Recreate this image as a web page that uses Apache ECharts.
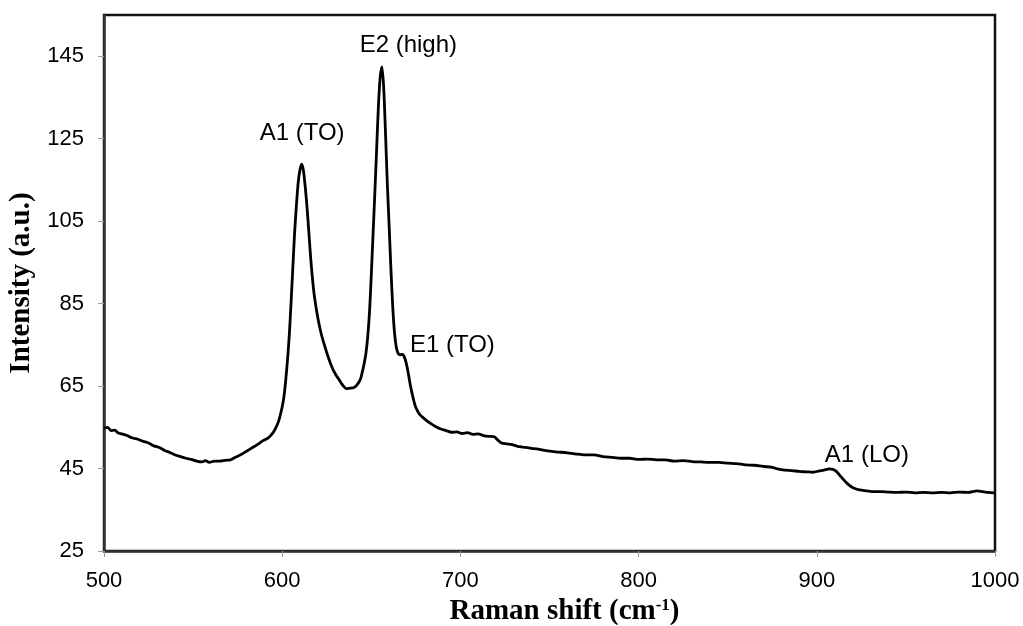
<!DOCTYPE html>
<html>
<head>
<meta charset="utf-8">
<script src="https://cdn.jsdelivr.net/npm/echarts@6/dist/echarts.min.js"></script>
<style>
html,body{margin:0;padding:0;background:#fff;}
#chart{width:1023px;height:626px;}
</style>
</head>
<body>
<div id="chart"></div>
<script>
// Raman shift (cm-1)
const ramanShift = [500,502,504,506,508,510,513,516,519,522,525,528,531,534,537,540,543,546,549,552,555,557,559,562,565,568,571,574,577,580,583,586,589,592,594,596,598,600,601,602,603,604,605,606,607,608,609,610,611,612,613,614,615,616,617,618,620,622,624,626,628,630,632,634,636,638,640,642,644,645,646,647,648,649,650,651,652,653,654,655,656,657,658,659,660,661,662,663,664,665,666,667,668,669,670,671,672,673,674,675,677,680,683,686,689,692,695,698,701,704,707,710,713,716,719,721,723,726,729,732,735,740,745,750,755,760,765,770,775,780,785,790,795,800,805,810,815,820,825,830,835,840,845,850,855,860,865,870,875,878,882,886,890,894,898,901,904,907,909,911,913,915,917,919,921,924,928,932,936,940,945,950,955,960,965,970,975,980,985,990,993,996,1000];
// Intensity (a.u.)
const intensity = [54.8,55.0,54.2,54.3,53.6,53.4,53.0,52.4,52.1,51.6,51.2,50.5,50.1,49.4,48.9,48.3,47.9,47.5,47.2,46.8,46.6,46.9,46.5,46.8,46.8,47.0,47.1,47.8,48.4,49.2,50.0,50.8,51.7,52.4,53.2,54.5,56.5,60.0,62.5,66.5,71.5,77.5,85.5,94.0,102.5,109.0,114.5,117.5,118.8,117.0,113.0,108.0,102.0,96.0,91.0,87.0,81.5,77.5,74.5,71.8,69.5,67.8,66.5,65.2,64.4,64.5,64.6,65.3,66.8,68.5,70.5,73.0,77.0,83.0,92.0,102.0,112.0,122.5,133.0,140.0,142.4,137.0,126.0,114.0,104.0,93.5,84.5,78.0,74.5,73.0,72.6,72.7,72.5,71.5,69.8,67.5,65.0,63.0,61.2,59.8,58.2,57.0,56.0,55.2,54.6,54.2,53.8,53.9,53.5,53.7,53.3,53.4,53.0,52.8,52.7,51.9,51.2,51.0,50.8,50.4,50.2,49.9,49.6,49.2,49.0,48.8,48.5,48.3,48.3,47.9,47.7,47.5,47.5,47.2,47.3,47.1,47.1,46.8,46.9,46.7,46.6,46.5,46.5,46.3,46.2,45.9,45.8,45.5,45.3,44.9,44.6,44.5,44.3,44.2,44.1,44.4,44.6,44.9,44.8,44.3,43.3,42.3,41.4,40.7,40.2,39.8,39.6,39.4,39.4,39.3,39.2,39.3,39.1,39.2,39.1,39.2,39.1,39.3,39.2,39.6,39.4,39.2,39.1];
// Peak annotations
const peakLabels = ['E2 (high)','A1 (TO)','E1 (TO)','A1 (LO)'];
const peakLabelX = [670.8, 611.2, 695.5, 928.1];
const peakLabelY = [147.7, 126.3, 74.9, 48.3];
const yTicks = {min:25, max:155, interval:20};
const xTicks = {min:500, max:1000, interval:100};

const chart = echarts.init(document.getElementById('chart'), null, {renderer:'canvas'});
const lineData = ramanShift.map((x,i)=>[x,intensity[i]]);
const annData = peakLabels.map((t,i)=>({value:[peakLabelX[i],peakLabelY[i]], name:t}));
chart.setOption({
  animation:false,
  backgroundColor:'#fff',
  grid:{left:104,right:28,top:15,bottom:75,containLabel:false,outerBoundsMode:'none',
        show:true,borderColor:'#111',borderWidth:2.5,backgroundColor:'transparent'},
  xAxis:{
    type:'value', min:xTicks.min, max:xTicks.max, interval:xTicks.interval,
    name:'Raman shift (cm{sup|-1})', nameLocation:'middle', nameGap:41,
    nameTextStyle:{fontFamily:'Liberation Serif',fontWeight:'bold',fontSize:29,color:'#000',padding:[0,0,0,30],
      rich:{sup:{fontFamily:'Liberation Serif',fontWeight:'bold',fontSize:17,color:'#000',verticalAlign:'top',padding:[0,0,12,0]}}},
    axisLine:{show:true,onZero:false,lineStyle:{color:'#333',width:2.5}},
    axisTick:{show:true,inside:false,length:6,lineStyle:{color:'#999',width:1}},
    axisLabel:{fontFamily:'Liberation Sans',fontSize:22,color:'#000',margin:19,formatter:v=>String(v)},
    splitLine:{show:false}
  },
  yAxis:{
    type:'value', min:yTicks.min, max:yTicks.max, interval:yTicks.interval,
    name:'Intensity (a.u.)', nameLocation:'middle', nameGap:62, nameRotate:90,
    nameTextStyle:{fontFamily:'Liberation Serif',fontWeight:'bold',fontSize:29,color:'#000'},
    axisLine:{show:true,onZero:false,lineStyle:{color:'#333',width:2.5}},
    axisTick:{show:true,inside:false,length:6,lineStyle:{color:'#999',width:1}},
    axisLabel:{fontFamily:'Liberation Sans',fontSize:22,color:'#000',margin:20,showMaxLabel:false,formatter:v=>String(v)},
    splitLine:{show:false}
  },
  series:[
    {type:'line',data:lineData,showSymbol:false,symbol:'none',smooth:0.25,
     lineStyle:{color:'#000',width:2.8},z:3},
    {type:'scatter',data:annData,symbolSize:0,itemStyle:{color:'#000',opacity:1},
     label:{show:true,position:'inside',formatter:p=>p.name,fontFamily:'Liberation Sans',fontSize:24,
            color:'#000',opacity:1,textBorderWidth:0},z:4}
  ]
});
</script>
</body>
</html>
